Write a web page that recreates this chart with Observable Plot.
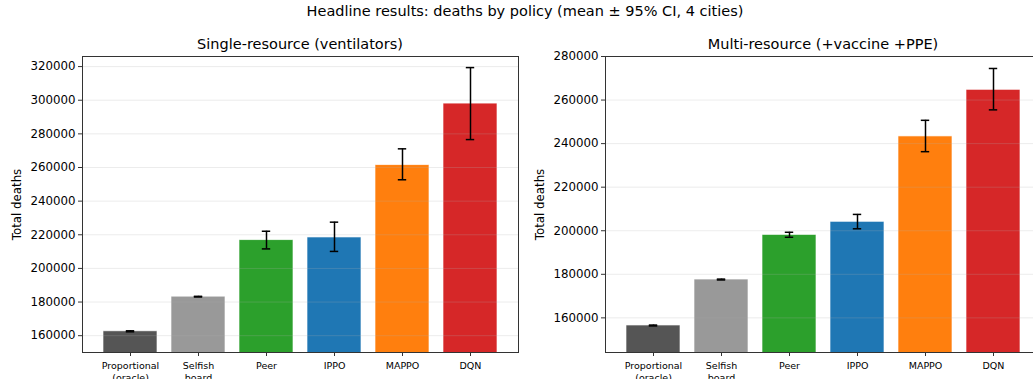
<!DOCTYPE html>
<html>
<head>
<meta charset="utf-8">
<script src="https://cdn.jsdelivr.net/npm/d3@7"></script>
<script src="https://cdn.jsdelivr.net/npm/@observablehq/plot@0.6"></script>
<style>
  html, body { margin: 0; padding: 0; background: #fff; }
  #root { position: relative; width: 1033px; height: 379px; overflow: hidden; font-family: "DejaVu Sans", sans-serif; color: #000; }
  .title { position: absolute; white-space: nowrap; transform: translateX(-50%); line-height: 1; }
  .panel { position: absolute; width: 530px; }
  .panel svg { max-width: none !important; }
</style>
</head>
<body>
<div id="root">
  <div class="title" style="left:525px; top:4px; font-size:14.5px;">Headline results: deaths by policy (mean ± 95% CI, 4 cities)</div>
  <div class="title" style="left:300px; top:37px; font-size:14.5px;">Single-resource (ventilators)</div>
  <div class="title" style="left:823px; top:37px; font-size:14.5px;">Multi-resource (+vaccine +PPE)</div>
  <div class="panel" id="p1" style="left:0px; top:40px;"></div>
  <div class="panel" id="p2" style="left:520px; top:40px;"></div>
</div>
<script>
// Data
const policies = ["Proportional\n(oracle)", "Selfish\nboard", "Peer", "IPPO", "MAPPO", "DQN"];
const colors = ["#555555", "#999999", "#2ca02c", "#1f77b4", "#ff7f0e", "#d62728"];

const singleMean = [162600, 183200, 216800, 218400, 261400, 298000];
const singleLo   = [162300, 183000, 211600, 210100, 252700, 276600];
const singleHi   = [162900, 183400, 222100, 227500, 271100, 319400];

const multiMean = [156500, 177600, 198100, 204100, 243300, 264700];
const multiLo   = [156300, 177400, 197000, 200900, 236300, 255500];
const multiHi   = [156700, 177800, 199300, 207500, 250700, 274500];

const singleTicks = [160000, 180000, 200000, 220000, 240000, 260000, 280000, 300000, 320000];
const multiTicks = [160000, 180000, 200000, 220000, 240000, 260000, 280000];

function rows(mean, lo, hi) {
  return policies.map((p, i) => ({policy: p, mean: mean[i], lo: lo[i], hi: hi[i], color: colors[i]}));
}

function panel(data, domain, ticks, marginLeft, marginRight) {
  return Plot.plot({
    width: 530,
    height: 352,
    marginLeft, marginRight,
    marginTop: 16,
    marginBottom: 40,
    style: {fontFamily: "DejaVu Sans, sans-serif", overflow: "visible", background: "transparent", maxWidth: "none"},
    x: {domain: policies, paddingInner: 0.2, paddingOuter: 0.29, label: null},
    y: {domain, label: null},
    color: {type: "identity"},
    marks: [
      Plot.barY(data, {x: "policy", y: "mean", fill: "color", stroke: "white", strokeWidth: 0.8, strokeOpacity: 0.8, clip: true}),
      Plot.gridY(ticks, {stroke: "#b0b0b0", strokeOpacity: 0.3, strokeWidth: 0.8}),
      Plot.ruleX(data, {x: "policy", y1: "lo", y2: "hi", stroke: "#000", strokeWidth: 1.5}),
      Plot.tickY(data, {x: "policy", y: "lo", stroke: "#000", strokeWidth: 1.5, insetLeft: 22.8, insetRight: 22.8}),
      Plot.tickY(data, {x: "policy", y: "hi", stroke: "#000", strokeWidth: 1.5, insetLeft: 22.8, insetRight: 22.8}),
      Plot.axisY({ticks, tickFormat: d3.format("d"), tickSize: 4, tickPadding: 3, fontSize: 11.8, fill: "#000", stroke: "#333",
        label: "Total deaths", labelAnchor: "center", labelArrow: "none", labelOffset: 70}),
      Plot.axisX({tickSize: 4, tickPadding: 4, fontSize: 9.5, fill: "#000", stroke: "#333", lineHeight: 1.28}),
      Plot.frame({stroke: "#333", strokeWidth: 1})
    ]
  });
}

document.getElementById("p1").appendChild(panel(rows(singleMean, singleLo, singleHi), [150000, 326000], singleTicks, 82, 12));
document.getElementById("p2").appendChild(panel(rows(multiMean, multiLo, multiHi), [144100, 280000], multiTicks, 85, 9));
</script>
</body>
</html>
